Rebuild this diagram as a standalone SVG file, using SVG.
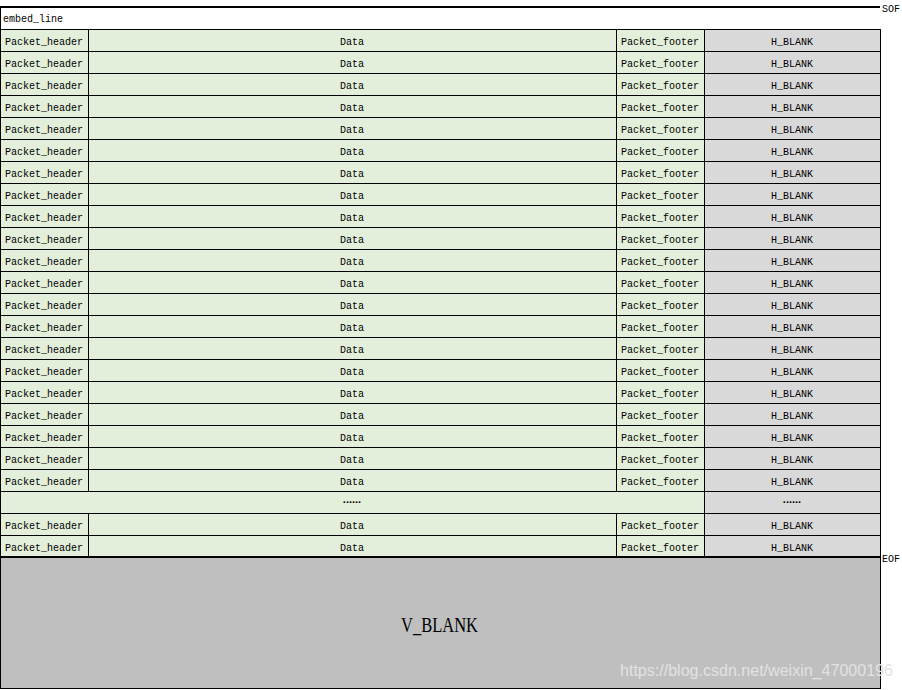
<svg xmlns="http://www.w3.org/2000/svg" width="902" height="690" viewBox="0 0 902 690">
<style>
.g{fill:#e3efda}
.h{fill:#d9d9d9}
.v{fill:#bfbfbf}
.t{font-family:"Liberation Mono",monospace;font-size:10px;fill:#000}
.c{text-anchor:middle}
.ln{stroke:#000;stroke-width:1;fill:none}
.thick{stroke:#000;stroke-width:2;fill:none}
.dots{font-family:"Liberation Sans",sans-serif;font-size:11px;font-weight:bold;fill:#000;text-anchor:middle}
</style>
<defs>
<g id="prow">
<rect class="g" x="0" y="0" width="704" height="22"/>
<rect class="h" x="704" y="0" width="176" height="22"/>
<text class="t" x="5" y="15.5">Packet_header</text>
<text class="t c" x="352" y="15.5">Data</text>
<text class="t c" x="660" y="15.5">Packet_footer</text>
<text class="t c" x="792" y="15.5">H_BLANK</text>
</g>
</defs>
<rect x="0" y="0" width="902" height="690" fill="#fff"/>
<g id="embed_line">
<text class="t" x="3" y="22">embed_line</text>
</g>
<g id="rows">
<use id="row1" href="#prow" x="0" y="29"/>
<use id="row2" href="#prow" x="0" y="51"/>
<use id="row3" href="#prow" x="0" y="73"/>
<use id="row4" href="#prow" x="0" y="95"/>
<use id="row5" href="#prow" x="0" y="117"/>
<use id="row6" href="#prow" x="0" y="139"/>
<use id="row7" href="#prow" x="0" y="161"/>
<use id="row8" href="#prow" x="0" y="183"/>
<use id="row9" href="#prow" x="0" y="205"/>
<use id="row10" href="#prow" x="0" y="227"/>
<use id="row11" href="#prow" x="0" y="249"/>
<use id="row12" href="#prow" x="0" y="271"/>
<use id="row13" href="#prow" x="0" y="293"/>
<use id="row14" href="#prow" x="0" y="315"/>
<use id="row15" href="#prow" x="0" y="337"/>
<use id="row16" href="#prow" x="0" y="359"/>
<use id="row17" href="#prow" x="0" y="381"/>
<use id="row18" href="#prow" x="0" y="403"/>
<use id="row19" href="#prow" x="0" y="425"/>
<use id="row20" href="#prow" x="0" y="447"/>
<use id="row21" href="#prow" x="0" y="469"/>
<g id="dots_row">
<rect class="g" x="0" y="491" width="704" height="22"/>
<rect class="h" x="704" y="491" width="176" height="22"/>
<text class="dots" x="352" y="503">......</text>
<text class="dots" x="792" y="503">......</text>
</g>
<use id="row22" href="#prow" x="0" y="513"/>
<use id="row23" href="#prow" x="0" y="535"/>
</g>
<g id="v_blank">
<rect class="v" x="0" y="557" width="880" height="132"/>
<text x="401" y="632" textLength="77" lengthAdjust="spacingAndGlyphs" font-family="Liberation Serif, serif" font-size="21" fill="#000">V_BLANK</text>
</g>
<g id="grid">
<path class="ln" d="M0 29.5H880M0 51.5H880M0 73.5H880M0 95.5H880M0 117.5H880M0 139.5H880M0 161.5H880M0 183.5H880M0 205.5H880M0 227.5H880M0 249.5H880M0 271.5H880M0 293.5H880M0 315.5H880M0 337.5H880M0 359.5H880M0 381.5H880M0 403.5H880M0 425.5H880M0 447.5H880M0 469.5H880M0 491.5H880M0 513.5H880M0 535.5H880"/>
<path class="ln" d="M0.5 7V689M880.5 29V689M88.5 29V491M88.5 513V557M616.5 29V491M616.5 513V557M704.5 29V557M0 688.5H881"/>
</g>
<g id="connectors">
<path class="thick" d="M0 7H880"/>
<path class="thick" d="M0 557H880"/>
</g>
<g id="labels">
<text class="t" x="882" y="12">SOF</text>
<text class="t" x="882" y="562">EOF</text>
</g>
<text x="620" y="676" textLength="273" lengthAdjust="spacingAndGlyphs" font-family="Liberation Sans, sans-serif" font-size="16" fill="#e2e2e2">https://blog.csdn.net/weixin_47000196</text>
</svg>
